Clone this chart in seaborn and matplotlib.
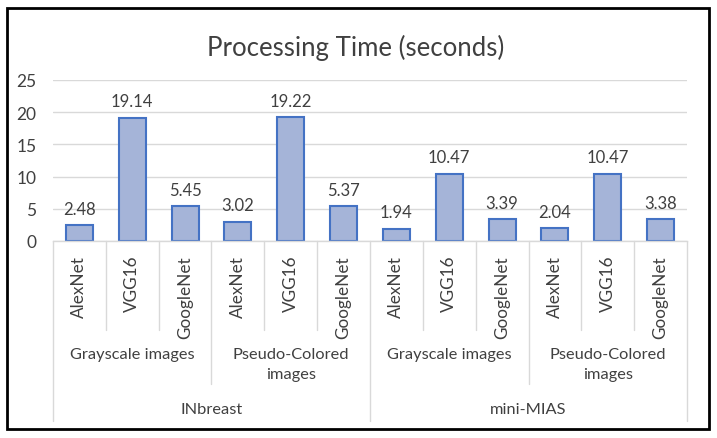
import matplotlib.pyplot as plt
import matplotlib.transforms as mtransforms
from matplotlib.patches import Rectangle
import seaborn as sns
import pandas as pd

datasets = ["INbreast", "mini-MIAS"]
image_types = ["Grayscale images", "Pseudo-Colored\nimages"]
models = ["AlexNet", "VGG16", "GoogleNet"]
times = [2.48, 19.14, 5.45, 3.02, 19.22, 5.37,
         1.94, 10.47, 3.39, 2.04, 10.47, 3.38]

rows = []
i = 0
for d in datasets:
    for t in image_types:
        for m in models:
            rows.append({"key": f"{d}|{t}|{m}", "dataset": d, "type": t,
                         "model": m, "time": times[i]})
            i += 1
df = pd.DataFrame(rows)

sns.set_style("white")
plt.rcParams["font.family"] = ["Lato", "DejaVu Sans"]
text_color = "#404040"
grid_color = "#D9D9D9"

fig = plt.figure(figsize=(7.17, 4.39), dpi=100)
ax = fig.add_axes([53 / 717, 197 / 439, 634 / 717, 161 / 439])

sns.barplot(data=df, x="key", y="time", order=df["key"], color="#9DB0E0",
            edgecolor="#4472C4", linewidth=1.5, width=0.51, ax=ax,
            errorbar=None)

ax.set_ylim(0, 25)
ax.set_yticks([0, 5, 10, 15, 20, 25])
ax.yaxis.grid(True, color=grid_color, linewidth=1)
ax.set_axisbelow(True)
for s in ["left", "right", "top"]:
    ax.spines[s].set_visible(False)
ax.spines["bottom"].set_color(grid_color)
ax.spines["bottom"].set_linewidth(1)
ax.set_xlim(-0.5, len(times) - 0.5)
ax.set_xlabel("")
ax.set_ylabel("")
ax.set_xticks(range(len(times)))
ax.set_xticklabels(df["model"], rotation=90, va="top", ha="center")
ax.tick_params(axis="x", length=0, pad=10, labelsize=12.3, colors=text_color)
ax.tick_params(axis="y", length=0, pad=12, labelsize=12.5, colors=text_color)

for c in ax.containers:
    ax.bar_label(c, labels=[f"{v:.2f}" for v in times], padding=6,
                 fontsize=12, color=text_color)

fig.suptitle("Processing Time (seconds)", x=356 / 717, y=1 - 48 / 439,
             va="center", fontsize=18.5, color=text_color)

# category axis separators
trans = mtransforms.blended_transform_factory(ax.transData, fig.transFigure)
n = len(times)
for b in range(n + 1):
    x = b - 0.5
    if b % 6 == 0:
        y_end = 422
    elif b % 3 == 0:
        y_end = 385
    else:
        y_end = 331
    ax.plot([x, x], [1 - 242 / 439, 1 - y_end / 439], transform=trans,
            color=grid_color, linewidth=1, clip_on=False)

for k, d in enumerate(datasets):
    for j, t in enumerate(image_types):
        center = k * 6 + j * 3 + 1
        ax.text(center, 1 - 348 / 439, t, transform=trans, ha="center",
                va="top", fontsize=11.8, color=text_color, linespacing=1.55)
    ax.text(k * 6 + 2.5, 1 - 410 / 439, d, transform=trans, ha="center",
            va="center", fontsize=11.8, color=text_color)

fig.patches.append(Rectangle((7 / 717, 9 / 439), 702 / 717, 421 / 439,
                             transform=fig.transFigure, fill=False,
                             edgecolor="black", linewidth=2))

fig.savefig("out.png", dpi=100)
